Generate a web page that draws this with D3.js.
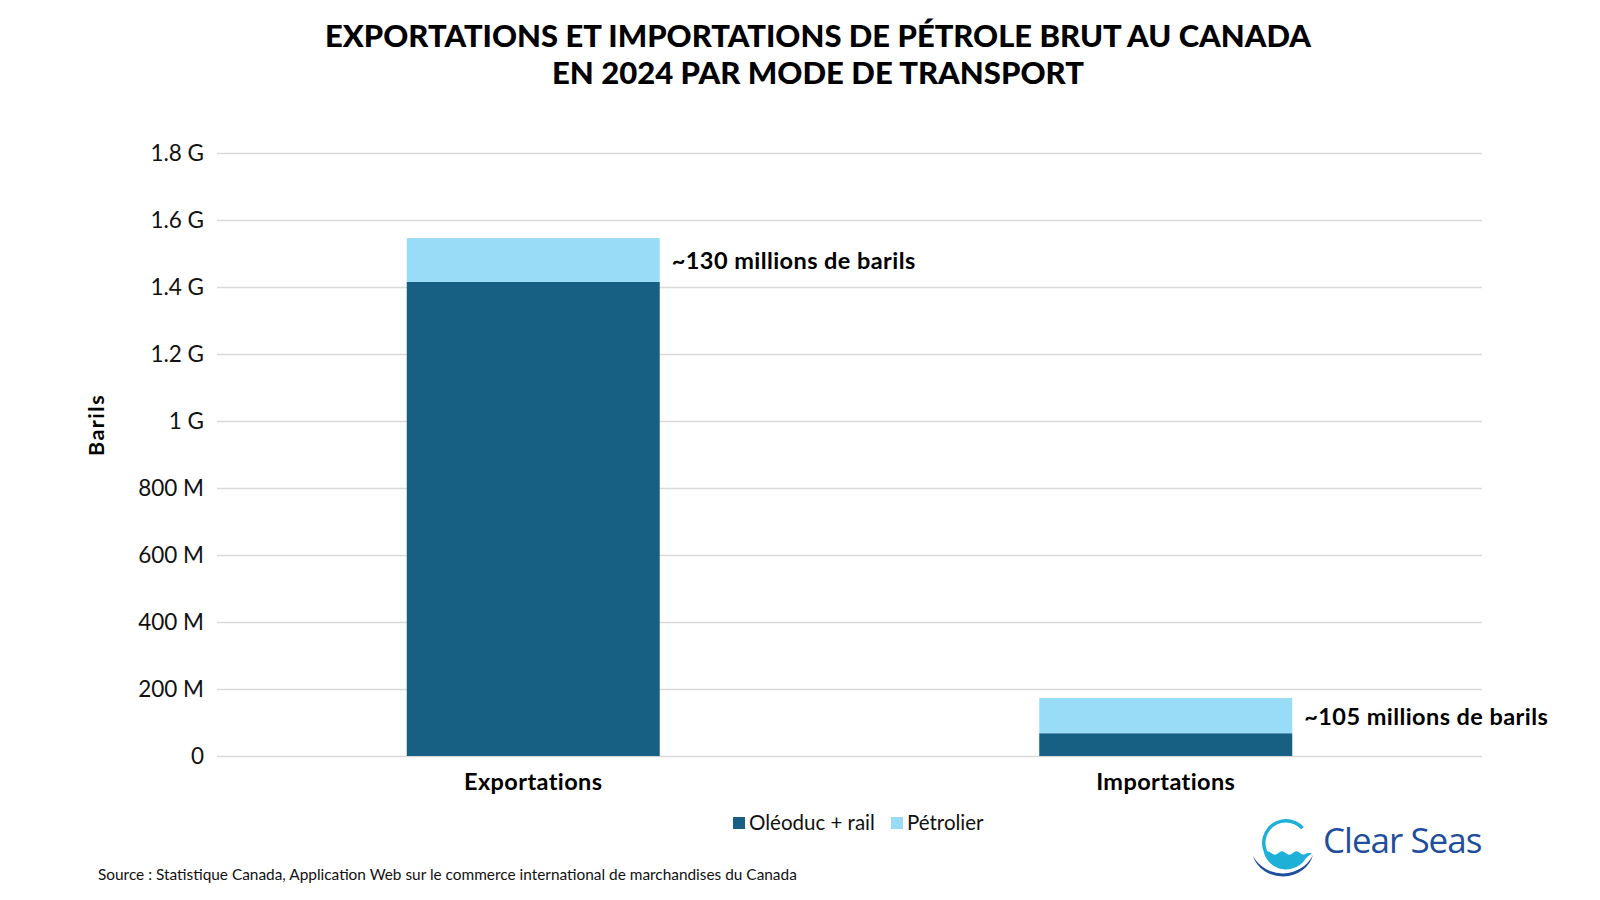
<!DOCTYPE html>
<html><head><meta charset="utf-8">
<script src="https://cdn.jsdelivr.net/npm/d3@7"></script>
<style>
html,body{margin:0;padding:0;background:#fff;}
svg{display:block;font-family:Lato,"Noto Sans",sans-serif;}
</style></head>
<body>
<svg id="chart" width="1600" height="900"></svg>
<script>
// ---- data ----
const categories = ["Exportations", "Importations"];
const seriesKeys = ["pipeline", "tanker"];
const seriesNames = ["Oléoduc + rail", "Pétrolier"];
const pipelineValues = [1415e6, 68e6];
const tankerValues = [131e6, 105e6];
const annotations = ["~130 millions de barils", "~105 millions de barils"];
const yTicks = [0, 200e6, 400e6, 600e6, 800e6, 1000e6, 1200e6, 1400e6, 1600e6, 1800e6];
const titleLines = ["EXPORTATIONS ET IMPORTATIONS DE PÉTROLE BRUT AU CANADA", "EN 2024 PAR MODE DE TRANSPORT"];
const yTitle = "Barils";
const sourceText = "Source : Statistique Canada, Application Web sur le commerce international de marchandises du Canada";
const colors = ["#176083", "#99dcf7"];

(function () {
const rows = categories.map((c, i) => ({cat: c, pipeline: pipelineValues[i], tanker: tankerValues[i]}));

const svg = d3.select("#chart");
const margin = {left: 217, right: 1482, top: 153, bottom: 756};

const x = d3.scaleBand().domain(categories).range([margin.left, margin.right]).paddingInner(0.6).paddingOuter(0.3);
const y = d3.scaleLinear().domain([0, 1.8e9]).range([margin.bottom, margin.top]);
const color = d3.scaleOrdinal().domain(seriesKeys).range(colors);

const fmt = v => v === 0 ? "0" : (v < 1e9 ? `${v / 1e6} M` : `${v / 1e9} G`);

// title
const title = svg.append("g");
titleLines.forEach((t, i) => {
  title.append("text").attr("x", 818).attr("y", 47 + i * 37)
    .attr("text-anchor", "middle").attr("font-weight", 900).attr("font-size", 30.5)
    .attr("fill", "#000").text(t);
});
const titleWidths = [986, 532];
title.selectAll("text").each(function(d, i) {
  d3.select(this).attr("textLength", titleWidths[i]).attr("lengthAdjust", "spacingAndGlyphs");
});

// y axis + grid
const yAxis = d3.axisLeft(y).tickValues(yTicks).tickFormat(fmt).tickSize(-(margin.right - margin.left)).tickPadding(13);
const gy = svg.append("g").attr("transform", `translate(${margin.left},0)`).call(yAxis);
gy.select(".domain").remove();
gy.selectAll(".tick line").attr("stroke", "#d9d9d9").attr("stroke-width", 1.5);
gy.selectAll(".tick text").attr("font-size", 22.5).attr("fill", "#111").attr("font-family", "Lato, sans-serif");

// y title
svg.append("text").attr("transform", `translate(96,425) rotate(-90)`)
  .attr("text-anchor", "middle").attr("dy", "0.35em").attr("font-weight", 700).attr("font-size", 21.5)
  .attr("letter-spacing", 1.5).attr("fill", "#000").text(yTitle);

// bars
const stacked = d3.stack().keys(seriesKeys)(rows);
svg.append("g").selectAll("g").data(stacked).join("g").attr("fill", d => color(d.key))
  .selectAll("rect").data(d => d).join("rect")
  .attr("x", d => x(d.data.cat)).attr("width", x.bandwidth())
  .attr("y", d => y(d[1])).attr("height", d => y(d[0]) - y(d[1]));

// x axis labels
const gx = svg.append("g").attr("transform", `translate(0,${margin.bottom})`)
  .call(d3.axisBottom(x).tickSize(0).tickPadding(17));
gx.select(".domain").remove();
gx.selectAll(".tick text").attr("font-size", 23.5).attr("font-weight", 700).attr("fill", "#000")
  .attr("letter-spacing", 0.4).attr("font-family", "Lato, sans-serif");

// annotations
const topLayer = stacked[1];
svg.append("g").selectAll("text").data(topLayer).join("text")
  .attr("x", d => x(d.data.cat) + x.bandwidth() + 12)
  .attr("y", d => (y(d[0]) + y(d[1])) / 2 + 9)
  .attr("font-size", 23.5).attr("font-weight", 700).attr("fill", "#000").attr("letter-spacing", 0.43)
  .text((d, i) => annotations[i]);

// legend
const legend = svg.append("g");
const legItems = [{x: 733, i: 0}, {x: 891, i: 1}];
legItems.forEach(it => {
  legend.append("rect").attr("x", it.x).attr("y", 817).attr("width", 12).attr("height", 12).attr("fill", colors[it.i]);
  legend.append("text").attr("x", it.x + 16).attr("y", 830).attr("font-size", 20.5).attr("fill", "#111").text(seriesNames[it.i]);
});

// source
svg.append("text").attr("x", 98).attr("y", 880).attr("font-size", 15.4).attr("fill", "#111").text(sourceText);

// logo
const logo = svg.append("g").attr("transform", "translate(1286,843)");
const arc = d3.arc();
const deg = Math.PI / 180;
// light ring, open at right
logo.append("path").attr("d", arc({innerRadius: 20.5, outerRadius: 24, startAngle: -150 * deg, endAngle: 48 * deg})).attr("fill", "#1fb0d8");
// water bowl
logo.append("path").attr("d", "M-22,10 q3.6,-3.5 7.2,0 q3.6,3.5 7.2,0 q3.6,-3.5 7.2,0 q3.6,3.5 7.2,0 q3.6,-3.5 7.2,0 q3.4,3 7,0 L 26,10 L 20,15 A 23 23 0 0 1 -22 10 Z").attr("fill", "#1fb0d8");
// dark crescent below
logo.append("path").attr("d", "M-33,13 A 34 34 0 0 0 27,12 A 31 28 0 0 1 -33,13 Z").attr("fill", "#1f4e9c");
svg.append("text").attr("x", 1323).attr("y", 853).attr("font-size", 35).attr("font-family", "'Open Sans', sans-serif")
  .attr("font-weight", 400).attr("fill", "#1f4e9c").attr("letter-spacing", -1).text("Clear Seas");
})();
</script>
</body></html>
